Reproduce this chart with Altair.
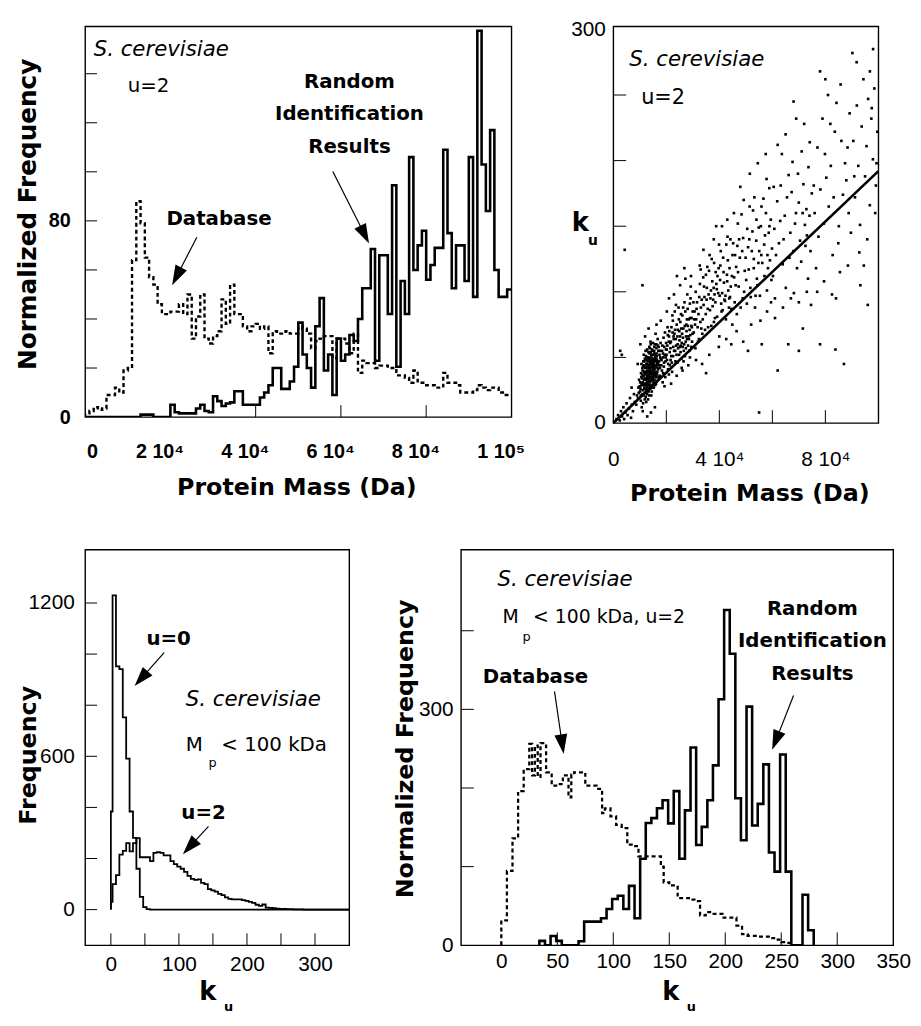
import math
import altair as alt
import pandas as pd

TXT = "DejaVu Sans"
NUM = "Liberation Sans"

# ---------------- Panel A: protein mass distributions (u = 2) ----------------
a_bin_start_kda = list(range(0, 100))
a_database_freq = [1.5, 2.5, 4, 3, 3.5, 9, 9, 12, 10, 19,
                   20, 64, 88, 79, 65, 57, 54, 46, 42, 42,
                   43, 43, 46, 42, 50, 32, 41, 50, 32, 30,
                   33, 35, 48, 38, 54, 42, 42, 37, 35, 37,
                   38, 36, 37, 26, 35, 34, 34, 35, 34, 34,
                   37, 36, 34, 28, 31, 32, 33, 33, 24, 32,
                   32, 30, 26, 34, 18, 23, 22, 22, 20, 21,
                   21, 20, 20, 17, 17, 16, 14, 19, 14, 14,
                   13, 13, 12, 12, 18, 14, 14, 13, 10, 10,
                   10, 11, 13, 12, 11, 12, 12, 10, 9, 9]
a_random_freq = [0, 0, 0, 0, 0, 0, 0, 0, 0, 0,
                 0, 0, 0, 1, 1, 1, 0, 0, 0, 0,
                 5, 2, 1.5, 1.5, 1.5, 1.5, 3.5, 5, 2.5, 2,
                 8.5, 6.5, 4.5, 5.5, 6, 10.5, 10.5, 5, 5, 5,
                 5, 8, 10, 13, 20, 20, 11.5, 11.5, 14.5, 20.5,
                 38.5, 25.5, 20, 12, 37, 48.5, 19, 25.5, 9, 32,
                 23, 25.5, 33.5, 31, 40, 52.5, 52.5, 68.5, 23, 66,
                 66, 42, 94.5, 20.5, 55.5, 42, 106, 60, 70, 76,
                 56, 62, 69, 69, 109, 75, 52.5, 70, 70, 55.5,
                 106, 49, 157.5, 103, 84, 117, 60, 49, 49, 52]

# ---------------- Panel B: k_u versus protein mass (kDa, k_u) ----------------
b_points = [
    (1.2, 3), (1.8, 6), (2.4, 2), (2.9, 9), (3.3, 5), (3.8, 12), (4.1, 3), (4.6, 8), (5.0, 15), (5.4, 6),
    (5.9, 11), (6.3, 19), (6.7, 4), (7.0, 14), (7.4, 9), (7.8, 22), (8.1, 16), (4.3, 132), (3.2, 52), (6.9, 27),
    (2.6, 55), (11.0, 105),
    (13.42, 37), (10.87, 22), (15.63, 48), (12.09, 29), (16.91, 41), (9.34, 19), (14.75, 55), (11.58, 33), (13.96, 26), (17.42, 52),
    (12.71, 45), (8.66, 14), (15.18, 31), (14.03, 62), (10.45, 38), (16.27, 57), (13.11, 18), (11.92, 49), (15.89, 39), (12.48, 24),
    (14.57, 44), (9.91, 28), (17.06, 35), (13.68, 53), (11.23, 15), (16.58, 46), (12.86, 36), (14.31, 21), (10.12, 31), (15.47, 58),
    (13.29, 42), (17.83, 61), (11.67, 27), (14.92, 34), (12.35, 51), (16.12, 30), (9.58, 23), (13.84, 47), (15.31, 27), (11.05, 40),
    (14.16, 39), (12.97, 32), (16.74, 64), (10.73, 12), (13.57, 58), (15.02, 43), (12.22, 20), (17.27, 47), (14.44, 29), (11.41, 36),
    (13.05, 49), (15.76, 52), (12.59, 38), (10.28, 26), (16.45, 37), (14.68, 47), (11.86, 23), (13.77, 31), (15.95, 68), (12.14, 43),
    (14.09, 54), (16.98, 55), (10.94, 34), (13.36, 24), (15.24, 37), (11.49, 52), (14.83, 41), (12.42, 16), (17.61, 42), (13.91, 38),
    (15.55, 33), (12.78, 56), (10.61, 45), (14.25, 32), (16.36, 51), (13.18, 43), (11.74, 30), (15.11, 49), (14.51, 24), (12.03, 37),
    (16.83, 33), (13.49, 29), (9.73, 33), (14.97, 61), (12.66, 31), (15.69, 44), (11.15, 25), (13.63, 40), (17.15, 58), (14.37, 50),
    (12.29, 48), (16.05, 43), (10.39, 17), (13.89, 35), (15.41, 55), (11.98, 42), (14.72, 36), (12.91, 27), (16.62, 39), (13.24, 54),
    (15.84, 29), (11.31, 47), (14.19, 45), (12.55, 34), (17.49, 36), (13.72, 45), (10.81, 29), (15.07, 40), (12.18, 55), (14.62, 27),
    (16.21, 60), (13.53, 21), (11.62, 39), (15.36, 46), (12.83, 40), (14.88, 52), (10.05, 24), (13.14, 33), (16.49, 48), (11.89, 18),
    (14.29, 37), (15.73, 36), (12.45, 42), (13.99, 46), (17.71, 50), (11.09, 31), (14.66, 39), (12.74, 22), (16.16, 35), (13.31, 50),
    (15.27, 30), (10.56, 35), (14.05, 28), (12.33, 33), (16.87, 46), (13.81, 57), (11.53, 44), (15.58, 41), (12.95, 47), (14.41, 43),
    (9.47, 27), (13.46, 44), (16.31, 53), (11.79, 26), (15.14, 35), (12.61, 39), (14.79, 33), (10.98, 42), (17.34, 44), (13.02, 39),
    (15.98, 47), (12.26, 26), (14.13, 60), (16.68, 42), (11.36, 21), (13.59, 34), (15.45, 53), (12.81, 50), (14.54, 38), (10.67, 30),
    (13.74, 28), (16.04, 38), (11.95, 34), (14.86, 46), (12.51, 45), (15.66, 60), (13.21, 36), (17.54, 55), (11.27, 43), (14.34, 52),
    (8.92, 21), (12.68, 35), (15.21, 44), (13.93, 42), (10.34, 21), (16.77, 59), (12.11, 39), (14.6, 56), (11.71, 47), (15.91, 37),
    (13.39, 32), (14.99, 47), (12.39, 30), (16.41, 44), (10.89, 37), (13.66, 49), (15.52, 38), (11.45, 29), (14.22, 34), (12.89, 43),
    (17.95, 49), (13.08, 30), (15.34, 42), (11.83, 38), (14.47, 48), (12.56, 28), (16.24, 49), (13.86, 40), (10.18, 28), (15.79, 50),
    (12.8, 5), (14.2, 8), (11.1, 9), (15.7, 12), (13.3, 72), (16.3, 75), (10.2, 60), (17.9, 78), (9.2, 45), (12.0, 66),
    (19.37, 52), (22.81, 64), (26.15, 58), (20.64, 41), (28.92, 80), (24.33, 71), (18.79, 38), (27.48, 66), (21.56, 57), (25.71, 49),
    (23.18, 85), (29.64, 73), (19.92, 61), (26.87, 92), (22.05, 46), (24.96, 63), (18.41, 55), (28.21, 59), (21.13, 70), (25.28, 77),
    (20.28, 48), (27.03, 51), (23.72, 59), (29.13, 95), (19.06, 43), (25.94, 68), (22.47, 78), (26.42, 72), (18.95, 65), (28.55, 64),
    (21.87, 51), (24.61, 88), (20.91, 62), (27.76, 79), (23.44, 47), (29.87, 68), (19.61, 35), (26.61, 55), (22.36, 69), (25.09, 58),
    (18.19, 48), (28.04, 87), (21.35, 44), (24.18, 66), (20.47, 73), (27.29, 62), (23.91, 75), (29.38, 58), (19.78, 50), (25.53, 83),
    (22.93, 55), (26.28, 65), (18.63, 31), (28.78, 71), (21.71, 62), (24.81, 52), (20.15, 56), (27.91, 98), (23.06, 68), (29.52, 80),
    (19.24, 58), (25.83, 61), (22.18, 39), (26.98, 74), (18.87, 50), (28.36, 66), (21.03, 66), (24.45, 57), (20.73, 45), (27.62, 70),
    (23.58, 64), (29.22, 104), (19.49, 69), (26.04, 82), (22.64, 58), (25.37, 54), (18.33, 40), (28.67, 55), (21.92, 73), (24.12, 46),
    (20.38, 59), (27.17, 85), (23.84, 52), (29.71, 62), (19.14, 46), (25.62, 72), (22.71, 66), (26.73, 60), (18.52, 59), (28.11, 74),
    (21.28, 54), (24.71, 79), (20.97, 37), (27.39, 57), (23.27, 71), (29.04, 67), (19.86, 56), (26.49, 47), (22.29, 82), (25.19, 66),
    (18.08, 44), (28.88, 91), (21.61, 48), (24.27, 60), (20.55, 67), (27.84, 64), (23.63, 90), (29.46, 74), (19.71, 47), (25.46, 59),
    (22.55, 51), (26.35, 88), (18.74, 53), (28.46, 79), (21.47, 61), (24.89, 70), (20.09, 52), (27.55, 75), (23.36, 55), (29.95, 85),
    (19.3, 28), (21.8, 30), (23.9, 36), (26.1, 40), (28.3, 44), (20.2, 85), (22.9, 98), (25.2, 105), (27.2, 110), (29.3, 112),
    (24.0, 112), (26.8, 118), (21.0, 95), (28.9, 50), (25.8, 42),
    (31.27, 79), (36.84, 101), (42.15, 93), (33.58, 68), (39.72, 118), (44.31, 104), (30.66, 85), (35.19, 94), (41.43, 126), (37.95, 77),
    (32.41, 96), (43.62, 88), (34.87, 83), (40.28, 109), (38.51, 92), (31.93, 62), (36.12, 116), (42.88, 113), (33.04, 88), (39.16, 81),
    (44.94, 128), (30.35, 69), (35.76, 73), (41.07, 99), (37.33, 108), (32.85, 77), (43.09, 142), (34.22, 104), (40.83, 85), (38.02, 122),
    (31.58, 92), (36.47, 86), (42.49, 79), (33.91, 111), (39.58, 99), (44.03, 96), (30.98, 57), (35.45, 119), (41.75, 107), (37.68, 94),
    (32.13, 83), (43.85, 118), (34.61, 71), (40.54, 131), (38.87, 106), (31.09, 100), (36.98, 74), (42.62, 136), (33.36, 94), (39.31, 112),
    (44.57, 87), (30.51, 79), (35.94, 98), (41.24, 86), (37.12, 125), (32.67, 106), (43.38, 101), (34.05, 90), (40.12, 97), (38.34, 80),
    (31.81, 73), (36.33, 128), (42.31, 97), (33.74, 79), (39.89, 136), (44.76, 112), (30.22, 92), (35.63, 87), (41.59, 115), (37.86, 103),
    (32.29, 64), (43.21, 124), (34.94, 113), (40.69, 91), (38.63, 115), (31.41, 87), (36.65, 95), (42.97, 108), (33.19, 72), (39.04, 102),
    (44.18, 140), (30.83, 75), (35.28, 103), (41.91, 94), (37.47, 89), (32.96, 117), (43.73, 95), (34.38, 96), (40.37, 120), (38.18, 98),
    (33.5, 45), (36.2, 52), (39.8, 58), (42.6, 64), (44.5, 60), (31.2, 48), (37.9, 140), (41.0, 150), (34.0, 132), (43.0, 155),
    (35.0, 38), (40.0, 66), (38.8, 150), (32.6, 120), (44.9, 75),
    (46.34, 119), (51.87, 96), (57.22, 143), (48.63, 131), (54.16, 110), (59.41, 155), (45.79, 92), (50.52, 148), (55.83, 128), (52.71, 162),
    (47.28, 104), (58.35, 118), (49.91, 126), (53.47, 88), (56.64, 171), (45.21, 137), (51.09, 117), (57.96, 101), (48.04, 88), (54.88, 149),
    (59.87, 133), (46.97, 152), (52.26, 131), (55.31, 97), (50.13, 109), (57.58, 160), (47.72, 126), (53.92, 139), (58.84, 179), (49.35, 100),
    (45.58, 111), (51.42, 165), (56.19, 122), (48.97, 141), (54.39, 105), (59.08, 124), (46.6, 83), (52.98, 118), (55.67, 150), (50.84, 134),
    (57.01, 112), (47.46, 140), (53.21, 172), (58.63, 145), (49.58, 116), (45.93, 128), (51.71, 103), (56.92, 136), (48.38, 159), (54.73, 122),
    (59.64, 109), (46.15, 105), (52.49, 146), (55.05, 131), (50.37, 91), (57.81, 186), (47.05, 115), (53.66, 97), (58.15, 128), (49.18, 170),
    (46.5, 70), (49.0, 62), (52.0, 75), (55.5, 78), (58.0, 85), (47.9, 180), (51.5, 190), (54.5, 198), (57.5, 205), (59.5, 92),
    (50.8, 55), (56.0, 60), (45.5, 160), (53.0, 125), (48.8, 95), (55.9, 165), (58.9, 150), (46.8, 135), (51.3, 140), (54.0, 155),
    (55.0, 8),
    (60.74, 148), (63.91, 121), (67.28, 176), (70.45, 139), (73.62, 195), (61.83, 169), (65.07, 103), (68.56, 152), (71.72, 182), (74.39, 131),
    (62.48, 137), (66.15, 189), (69.31, 118), (72.84, 163), (60.23, 112), (64.67, 158), (67.94, 131), (71.06, 207), (74.88, 175), (63.15, 181),
    (66.79, 145), (69.97, 168), (73.04, 143), (61.37, 128), (65.53, 172), (68.12, 99), (72.27, 151), (74.11, 214), (62.96, 154), (70.88, 123),
    (64.23, 140), (67.61, 199), (73.46, 110), (60.97, 95), (66.42, 126), (69.66, 190), (71.43, 160), (63.58, 205), (68.9, 160), (72.5, 135),
    (61.0, 80), (64.0, 88), (67.0, 95), (70.0, 92), (73.0, 100), (62.0, 212), (65.0, 220), (69.0, 232), (72.0, 228), (74.6, 90),
    (66.0, 60), (71.5, 72), (60.5, 180), (68.0, 245), (74.0, 158), (62.0, 40), (70.0, 55),
    (75.62, 181), (77.39, 142), (79.84, 205), (81.27, 165), (83.56, 222), (85.08, 150), (87.43, 198), (89.15, 236), (76.48, 118), (78.91, 232),
    (80.35, 187), (82.74, 128), (84.19, 244), (86.62, 174), (88.37, 210), (75.95, 160), (78.13, 178), (80.98, 250), (82.06, 196), (84.87, 137),
    (86.05, 215), (88.79, 160), (77.02, 210), (79.45, 152), (81.88, 228), (83.12, 172), (85.74, 258), (87.91, 185), (89.63, 145), (76.9, 100),
    (79.5, 108), (82.5, 98), (85.5, 115), (88.5, 120), (80.0, 262), (84.0, 95), (78.0, 268), (87.0, 45), (90.2, 282), (83.8, 56),
    (78.0, 60),
    (90.54, 215), (91.18, 172), (91.87, 242), (92.42, 196), (93.09, 151), (93.71, 226), (94.36, 262), (94.98, 188), (95.52, 211), (96.14, 247),
    (96.77, 166), (97.35, 232), (97.93, 201), (98.47, 255), (99.06, 181), (99.61, 222), (92.8, 130), (95.8, 140), (98.8, 160), (91.8, 275),
    (96.8, 268), (93.2, 105), (97.5, 240), (99.3, 198), (90.9, 188), (94.5, 120), (98.0, 285), (96.0, 90),
]
b_fit_mass_kda = [0, 100]
b_fit_ku = [0, 192]

# ---------------- Panel C: k_u frequency, u = 0 and u = 2 ----------------
c_u0_start = [0, 2.5, 7.5, 12.5, 17.5, 22.5, 27.5, 32.5, 37.5, 42.5, 47.5, 52.5, 57.5]
c_u0_freq = [384, 1230, 952, 941, 752, 591, 384, 281, 160, 50, 10, 2, 0]
c_u2_start = [0, 2.5, 7.5, 12.5, 17.5, 22.5, 27.5, 32.5, 37.5, 42.5, 47.5, 52.5, 57.5, 62.5, 67.5,
              72.5, 77.5, 82.5, 87.5, 92.5, 97.5, 102.5, 107.5, 112.5, 117.5, 122.5, 127.5, 132.5,
              137.5, 142.5, 147.5, 152.5, 157.5, 162.5, 167.5, 172.5, 177.5, 182.5, 187.5, 192.5,
              197.5, 202.5, 207.5, 212.5, 217.5, 222.5, 227.5, 232.5, 237.5, 242.5, 247.5, 252.5,
              257.5, 262.5, 267.5, 272.5, 277.5, 282.5]
c_u2_freq = [30, 100, 135, 215, 230, 260, 228, 260, 280, 205, 205, 205, 190, 222, 225,
             222, 212, 212, 190, 178, 168, 160, 148, 132, 120, 116, 118, 105,
             100, 80, 75, 70, 62, 57, 48, 42, 40, 40, 40, 37,
             34, 30, 26, 19, 15, 20, 8, 7, 6, 4, 3, 3,
             2, 2, 1, 1, 1, 0]

# ---------------- Panel D: k_u distributions, database vs random ----------------
d_db_start = [0, 5, 10, 15, 20, 25, 27.5, 30, 32.5, 35, 40, 45, 50, 55, 60, 62.5, 65, 75, 85, 90,
              92.5, 97.5, 102.5, 107.5, 112.5, 117.5, 122.5, 142.5, 145, 150, 157.5, 162.5, 167.5,
              172.5, 177.5, 182.5, 187.5, 192.5, 197.5, 210, 215, 220, 230, 240, 245, 250, 255]
d_db_freq = [31.5, 94.5, 136, 196, 224, 256, 216, 254, 214, 257, 220, 203, 205, 216, 188, 217, 220,
             203, 199, 168, 174, 164, 153, 149, 128, 126, 113, 100, 80, 76, 60, 60, 58, 56, 38, 42,
             40, 40, 35, 25, 14, 12, 11, 9, 7, 4, 3]
d_rand_start = [34, 39, 44, 49, 54, 69, 74, 89, 94, 99, 104, 109, 114, 119, 124, 129, 134, 139, 144,
                149, 154, 159, 164, 169, 174, 179, 184, 189, 194, 199, 204, 209, 214, 219, 224, 229,
                234, 239, 244, 249, 254, 259, 269, 274, 279]
d_rand_freq = [5.5, 0, 11.8, 5.5, 0, 5, 30, 34.4, 46, 58.7, 63, 46, 75.5, 34.4, 110, 155.4, 161.7,
               174.3, 184.5, 155, 196, 110, 171.5, 251.5, 127.5, 150.5, 184.5, 228.8, 312.8, 426.3,
               370.7, 187, 133.5, 303.5, 152.4, 179.8, 230, 118, 93.6, 242.7, 93.6, 0, 64.2, 19, 0]

HEAD_PATH = "M-0.65,-1L0.65,-1L0,1Z"


def step_frame(starts, values, x_end, y_end):
    xs = [starts[0]] + list(starts) + [x_end]
    ys = [0] + list(values) + [y_end]
    return pd.DataFrame({"x": xs, "y": ys, "i": list(range(len(xs)))})


def make_axis(values, size, weight="normal", pad=10, expr=None, offset=None):
    kw = dict(values=values, ticks=False, domain=False, grid=False, title=None,
              labelFont=NUM, labelFontSize=size, labelFontWeight=weight,
              labelPadding=pad, labelColor="black", labelOverlap=False,
              labelFlush=False, labelBound=False, format="d")
    if expr is not None:
        kw["labelExpr"] = expr
    if offset is not None:
        kw["labelOffset"] = offset
    return alt.Axis(**kw)


class Panel:
    def __init__(self, W, H, xdom, ydom, xaxis, yaxis):
        self.W, self.H, self.xdom, self.ydom = W, H, xdom, ydom
        self.xaxis, self.yaxis = xaxis, yaxis
        self.layers = []

    def X(self, f):
        return alt.X(f, type="quantitative", axis=self.xaxis,
                     scale=alt.Scale(domain=self.xdom, nice=False, zero=False))

    def Y(self, f):
        return alt.Y(f, type="quantitative", axis=self.yaxis,
                     scale=alt.Scale(domain=self.ydom, nice=False, zero=False))

    def cell(self, x0, x1, y0, y1):
        # transparent box fixing the panel's layout footprint
        self.layers.append(alt.Chart(pd.DataFrame({"a": [0]})).mark_rect(opacity=0).encode(
            x=alt.value(x0), x2=alt.value(x1), y=alt.value(y0), y2=alt.value(y1)))

    def ticks(self, xt, yt, tl=12):
        if yt:
            self.layers.append(alt.Chart(pd.DataFrame({"v": yt})).mark_rule(
                color="black", strokeWidth=1).encode(
                y=self.Y("v"), x=alt.value(0), x2=alt.value(tl)))
        if xt:
            self.layers.append(alt.Chart(pd.DataFrame({"v": xt})).mark_rule(
                color="black", strokeWidth=1).encode(
                x=self.X("v"), y=alt.value(self.H), y2=alt.value(self.H - tl)))

    def step(self, df, width=2.5, dash=None):
        kw = dict(interpolate="step-after", color="black", strokeWidth=width, clip=True)
        if dash is not None:
            kw["strokeDash"] = dash
        self.layers.append(alt.Chart(df).mark_line(**kw).encode(
            x=self.X("x"), y=self.Y("y"), order=alt.Order("i:Q")))

    def text(self, rows, size, weight="normal", style="normal", align="left"):
        df = pd.DataFrame(rows, columns=["t", "x", "y"])
        self.layers.append(alt.Chart(df).mark_text(
            font=TXT, fontSize=size, fontWeight=weight, fontStyle=style,
            align=align, baseline="middle", color="black").encode(
            x=self.X("x"), y=self.Y("y"), text="t:N"))

    def ptext(self, x, y, t, size, weight="bold", angle=0):
        df = pd.DataFrame({"t": [t]})
        kw = dict(font=TXT, fontSize=size, fontWeight=weight, align="center",
                  baseline="middle", color="black")
        if angle:
            kw["angle"] = angle
        self.layers.append(alt.Chart(df).mark_text(**kw).encode(
            x=alt.value(x), y=alt.value(y), text="t:N"))

    def arrows(self, arrows, L=20, lw=1.2):
        sx = self.W / (self.xdom[1] - self.xdom[0])
        sy = self.H / (self.ydom[1] - self.ydom[0])
        lines, heads = [], []
        for (x0, y0, x1, y1) in arrows:
            dxp = (x1 - x0) * sx
            dyp = -(y1 - y0) * sy
            n = math.hypot(dxp, dyp)
            ux, uy = dxp / n, dyp / n
            ang = math.degrees(math.atan2(-ux, uy)) % 360
            hx = x1 - (L / 2) * ux / sx
            hy = y1 + (L / 2) * uy / sy
            lines.append({"x": x0, "y": y0, "x2": hx, "y2": hy})
            heads.append({"x": hx, "y": hy, "a": ang})
        self.layers.append(alt.Chart(pd.DataFrame(lines)).mark_rule(
            color="black", strokeWidth=lw).encode(
            x=self.X("x"), y=self.Y("y"), x2="x2:Q", y2="y2:Q"))
        self.layers.append(alt.Chart(pd.DataFrame(heads)).mark_point(
            shape=HEAD_PATH, size=L * L, filled=True, color="black", opacity=1).encode(
            x=self.X("x"), y=self.Y("y"), angle=alt.Angle("a:Q", scale=None)))

    def chart(self):
        return alt.layer(*self.layers).properties(width=self.W, height=self.H)


# ---------- Panel A ----------
A = Panel(431, 395, [0, 100], [0, 159.3],
          make_axis([0, 20, 40, 60, 80, 100], 20, "bold", 25,
                    expr="datum.value == 0 ? '0' : (datum.value == 100 ? '1 10\u2075' : (datum.value / 10) + ' 10\u2074')",
                    offset={"condition": {"test": "datum.value == 0", "value": 7}, "value": -11}),
          make_axis([0, 80], 20, "bold", 15))
A.cell(-77, 475, -12, 503)
A.ticks([20, 40, 60, 80], [20, 40, 60, 80, 100, 120, 140], 12)
A.step(step_frame(a_bin_start_kda, a_database_freq, 100, a_database_freq[-1]), 2.4, [4, 3])
A.step(step_frame(a_bin_start_kda, a_random_freq, 100, a_random_freq[-1]), 2.6)
A.text([("S. cerevisiae", 2.0, 149.6)], 21.5, style="italic")
A.text([("u=2", 10.0, 135)], 20)
A.text([("Random", 62.0, 136.4), ("Identification", 62.0, 123.7), ("Results", 62.0, 110.2),
        ("Database", 31.4, 80.9)], 20, weight="bold", align="center")
A.arrows([(58.1, 100.1, 66.6, 70.8), (26.2, 73.3, 20.4, 53.8)])
A.ptext(-58, 190, "Normalized Frequency", 25, angle=270)
A.ptext(214, 467, "Protein Mass (Da)", 24)

# ---------- Panel B ----------
B = Panel(268, 401, [0, 100], [0, 302.3],
          make_axis([0, 40, 80], 21, pad=26,
                    expr="datum.value == 0 ? '0' : (datum.value / 10) + ' 10\u2074'"),
          make_axis([0, 300], 21, pad=8))
B.cell(-57, 302, -12, 503)
B.ticks([20, 40, 60, 80], [50, 100, 150, 200, 250], 13)
b_df = pd.DataFrame(b_points, columns=["x", "y"])
B.layers.append(alt.Chart(b_df).mark_square(size=7, color="black", opacity=1).encode(
    x=B.X("x"), y=B.Y("y")))
B.layers.append(alt.Chart(pd.DataFrame({"x": b_fit_mass_kda, "y": b_fit_ku})).mark_line(
    color="black", strokeWidth=2.6).encode(x=B.X("x"), y=B.Y("y")))
B.text([("S. cerevisiae", 6.0, 276.6)], 21.5, style="italic")
B.text([("u=2", 10.5, 248)], 21)
B.ptext(-33.5, 198.5, "k", 26)
B.ptext(-20.5, 217.5, "u", 14)
B.ptext(138, 473, "Protein Mass (Da)", 24)

# ---------- Panel C ----------
C = Panel(267, 400, [-37.8, 350.3], [-139.4, 1409],
          make_axis([0, 100, 200, 300], 21, pad=9),
          make_axis([0, 600, 1200], 21, pad=11))
C.cell(-77, 308, -24, 469)
C.ticks([0, 50, 100, 150, 200, 250, 300], [0, 200, 400, 600, 800, 1000, 1200], 12)
C.step(step_frame(c_u0_start, c_u0_freq, 350, 0), 1.8)
C.step(step_frame(c_u2_start, c_u2_freq, 350, 0), 1.8)
C.text([("u=0", 84.8, 1057), ("u=2", 136.2, 378)], 20, weight="bold", align="center")
C.text([("S. cerevisiae", 110.1, 819.6)], 21.5, style="italic")
C.text([("M", 110.1, 642.7), ("< 100 kDa", 162.3, 642.7)], 20)
C.text([("p", 143.5, 573)], 13)
C.arrows([(78.3, 1006, 34.8, 875), (143.5, 326, 105.8, 216.8)])
C.ptext(-56.5, 208, "Frequency", 24, angle=270)
C.ptext(124, 447, "k", 26)
C.ptext(145, 462, "u", 13)

# ---------- Panel D ----------
D = Panel(437, 400, [-36, 350], [0, 503.2],
          make_axis([0, 50, 100, 150, 200, 250, 300, 350], 21, pad=6),
          make_axis([0, 300], 21, pad=8))
D.cell(-70, 456, -24, 469)
D.ticks([50, 100, 150, 200, 250, 300], [100, 200, 300, 400], 13)
D.step(step_frame(d_db_start, d_db_freq, 260, 0), 2.3, [4, 3])
D.step(step_frame(d_rand_start, d_rand_freq, 279, 0), 2.6)
D.text([("S. cerevisiae", -3.5, 465)], 21.5, style="italic")
D.text([("M", 1.1, 417), ("< 100 kDa, u=2", 28.4, 417)], 19)
D.text([("p", 19, 392)], 13)
D.text([("Database", 30.5, 341.7), ("Random", 277.8, 427), ("Identification", 277.8, 386.8),
        ("Results", 277.8, 345)], 20, weight="bold", align="center")
D.arrows([(47.5, 322.8, 55.7, 243.2), (261, 317.6, 241.9, 248.5)])
D.ptext(-55.5, 201.5, "Normalized Frequency", 24, angle=270)
D.ptext(212, 447, "k", 26)
D.ptext(233, 462, "u", 13)

top = alt.hconcat(A.chart(), B.chart(), spacing=0)
bottom = alt.hconcat(C.chart(), D.chart(), spacing=0)
chart = alt.vconcat(top, bottom, spacing=0).properties(
    padding=0, background="white"
).configure_view(stroke="black", strokeWidth=1.4)

chart.save("out.html", embed_options={"renderer": "svg", "actions": False})
